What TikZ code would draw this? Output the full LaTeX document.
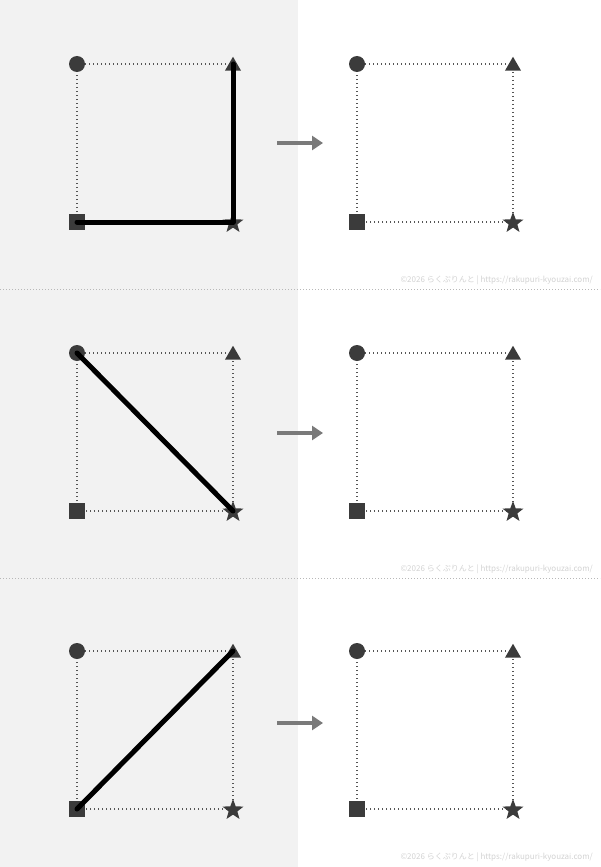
\documentclass[tikz,border=0pt]{standalone}
\usepackage{fontspec}
\newfontfamily\cjk{Noto Sans CJK JP}
\usetikzlibrary{shapes.geometric,arrows.meta}
\definecolor{bgleft}{HTML}{F2F2F2}
\definecolor{markc}{HTML}{3B3B3B}
\definecolor{guidec}{HTML}{555555}
\definecolor{sepc}{HTML}{B8B8B8}
\definecolor{arrowc}{HTML}{7A7A7A}
\definecolor{wmc}{HTML}{D2D2D2}
\begin{document}
\begin{tikzpicture}[x=1pt,y=-1pt,
  dotm/.style={circle,fill=markc,inner sep=0pt,minimum size=16pt},
  sqm/.style={rectangle,fill=markc,inner sep=0pt,minimum size=16pt},
  trim/.style={regular polygon,regular polygon sides=3,fill=markc,inner sep=0pt,minimum size=18.5pt},
  starm/.style={star,star points=5,star point ratio=2.4,fill=markc,inner sep=0pt,minimum size=22pt},
  guide/.style={draw=guidec,line width=1.1pt,dash pattern=on 1.1pt off 2.9pt},
  sepline/.style={draw=sepc,line width=0.9pt,dash pattern=on 0.9pt off 2.1pt},
  route/.style={draw=black,line width=5pt,line cap=round,line join=round},
  garrow/.style={draw=arrowc,line width=4.5pt,-{Triangle[length=11pt,width=14pt]}},
  wmark/.style={text=wmc,font=\cjk\fontsize{8}{9}\selectfont,anchor=east,inner sep=0pt}]
\useasboundingbox (0,0) rectangle (600,867);
\fill[bgleft] (0,0) rectangle (298,867);
\coordinate (s1a) at (0,289); \coordinate (s1b) at (600,289);
\coordinate (s2a) at (0,578); \coordinate (s2b) at (600,578);
\draw[sepline] (s1a) -- (s1b);
\draw[sepline] (s2a) -- (s2b);
\foreach \r/\yt/\yb/\ya/\yw in {1/64/222/143/280, 2/353/511/433/569, 3/651/809/723/857} {
  \foreach \p/\x in {L/77, R/357} {
    \coordinate (\p\r a) at (\x,\yt);
    \coordinate (\p\r b) at (\x+156,\yt);
    \coordinate (\p\r c) at (\x+156,\yb);
    \coordinate (\p\r d) at (\x,\yb);
    \draw[guide] (\p\r a) -- (\p\r b) -- (\p\r c) -- (\p\r d) -- cycle;
    \node[dotm] (\p\r circ) at (\p\r a) {};
    \node[trim] (\p\r tri) at ([yshift=-2pt]\p\r b) {};
    \node[starm] (\p\r star) at ([yshift=-1pt]\p\r c) {};
    \node[sqm] (\p\r sq) at (\p\r d) {};
  }
  \coordinate (A\r s) at (277,\ya);
  \coordinate (A\r e) at (323,\ya);
  \draw[garrow] (A\r s) -- (A\r e);
  \node[wmark] (W\r) at (593,\yw) {©2026 らくぷりんと | https://rakupuri-kyouzai.com/};
}
\draw[route] (L1d) -- (L1c) -- (L1b);
\draw[route] (L2a) -- (L2c);
\draw[route] (L3d) -- (L3b);
\end{tikzpicture}
\end{document}
